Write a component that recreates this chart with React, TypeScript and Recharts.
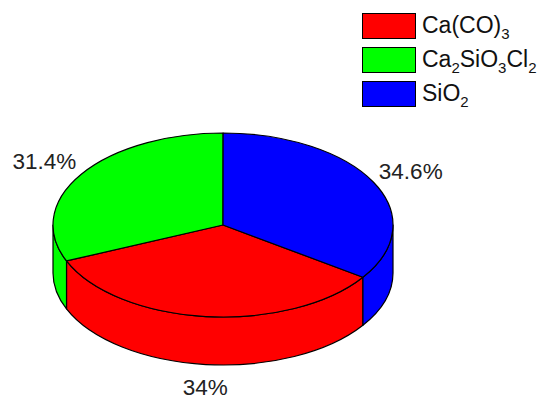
import { PieChart, Pie, Cell, Legend } from "recharts";

const NAMES = ["Ca(CO)3", "Ca2SiO3Cl2", "SiO2"];
const SHARES = [34, 31.4, 34.6];
const COLORS = ["#ff0000", "#00ff00", "#0000ff"];

const data = NAMES.map((name, i) => ({ name, value: SHARES[i] }));

const TILT = 92 / 170; // vertical squash of the top face
const DEPTH = 48; // wall height
const FONT = '"Liberation Sans", Arial, sans-serif';
const RAD = Math.PI / 180;

// chemical formula: digits become subscripts
const Formula = ({ text }: { text: string }) => (
  <>
    {text.split(/(\d+)/).map((part, i) =>
      /^\d+$/.test(part) ? (
        <span key={i} style={{ fontSize: 15, position: "relative", top: 6 }}>
          {part}
        </span>
      ) : (
        <span key={i}>{part}</span>
      )
    )}
  </>
);

const LegendBox = ({ payload }: any) => (
  <div style={{ fontFamily: FONT, fontSize: 23, color: "#111" }}>
    {(payload || []).map((p: any) => (
      <div
        key={p.value}
        style={{ display: "flex", alignItems: "center", height: 26, marginBottom: 8 }}
      >
        <div
          style={{
            width: 52,
            height: 24,
            background: p.color,
            border: "1px solid #000",
            flex: "none",
          }}
        />
        <div style={{ marginLeft: 6, lineHeight: "26px", whiteSpace: "nowrap" }}>
          <Formula text={p.value} />
        </div>
      </div>
    ))}
  </div>
);

// each slice is drawn as an elliptic wedge with its visible front wall
const Slice3D = (props: any) => {
  const { cx, cy, outerRadius, startAngle, endAngle, midAngle, fill, value } = props;
  const rx = outerRadius;
  const ry = outerRadius * TILT;
  const hi = Math.max(startAngle, endAngle);
  const lo = Math.min(startAngle, endAngle);
  const p = (deg: number, dy = 0) =>
    `${(cx + rx * Math.cos(deg * RAD)).toFixed(2)},${(cy - ry * Math.sin(deg * RAD) + dy).toFixed(2)}`;

  const walls: string[] = [];
  for (let k = -2; k <= 1; k++) {
    const a = Math.max(lo, k * 360 - 180);
    const b = Math.min(hi, k * 360);
    if (b - a > 0.01) {
      walls.push(
        `M${p(b)} A${rx},${ry} 0 0 1 ${p(a)} L${p(a, DEPTH)} A${rx},${ry} 0 0 0 ${p(b, DEPTH)} Z`
      );
    }
  }
  const large = hi - lo > 180 ? 1 : 0;
  const top = `M${cx},${cy} L${p(hi)} A${rx},${ry} 0 ${large} 1 ${p(lo)} Z`;

  const c = Math.cos(midAngle * RAD);
  const s = Math.sin(midAngle * RAD);
  const lx = cx + (rx + 6) * c;
  const ly = cy - (ry + 23) * s + (s < 0 ? DEPTH : 0);
  const anchor = c > 0.3 ? "start" : c < -0.3 ? "end" : "middle";

  return (
    <g>
      {walls.map((d, i) => (
        <path key={i} d={d} fill={fill} stroke="#000" strokeWidth={1.2} strokeLinejoin="round" />
      ))}
      <path d={top} fill={fill} stroke="#000" strokeWidth={1.2} strokeLinejoin="round" />
      <text
        x={lx}
        y={ly}
        textAnchor={anchor}
        dominantBaseline="central"
        fontFamily={FONT}
        fontSize={22.5}
        fill="#222"
      >
        {`${value}%`}
      </text>
    </g>
  );
};

export default function App() {
  return (
    <div style={{ position: "absolute", left: 0, top: 0, background: "#fff" }}>
      <PieChart width={550} height={405} margin={{ top: 0, right: 0, bottom: 0, left: 0 }}>
        <Pie
          data={data}
          dataKey="value"
          nameKey="name"
          cx={223}
          cy={225}
          outerRadius={170}
          startAngle={-34.6}
          endAngle={-394.6}
          stroke="none"
          fillOpacity={0}
          labelLine={false}
          label={Slice3D}
          isAnimationActive={false}
        >
          {data.map((d, i) => (
            <Cell key={d.name} fill={COLORS[i]} />
          ))}
        </Pie>
        <Legend
          content={<LegendBox />}
          wrapperStyle={{ position: "absolute", left: 362, top: 13, width: 188 }}
        />
      </PieChart>
    </div>
  );
}
